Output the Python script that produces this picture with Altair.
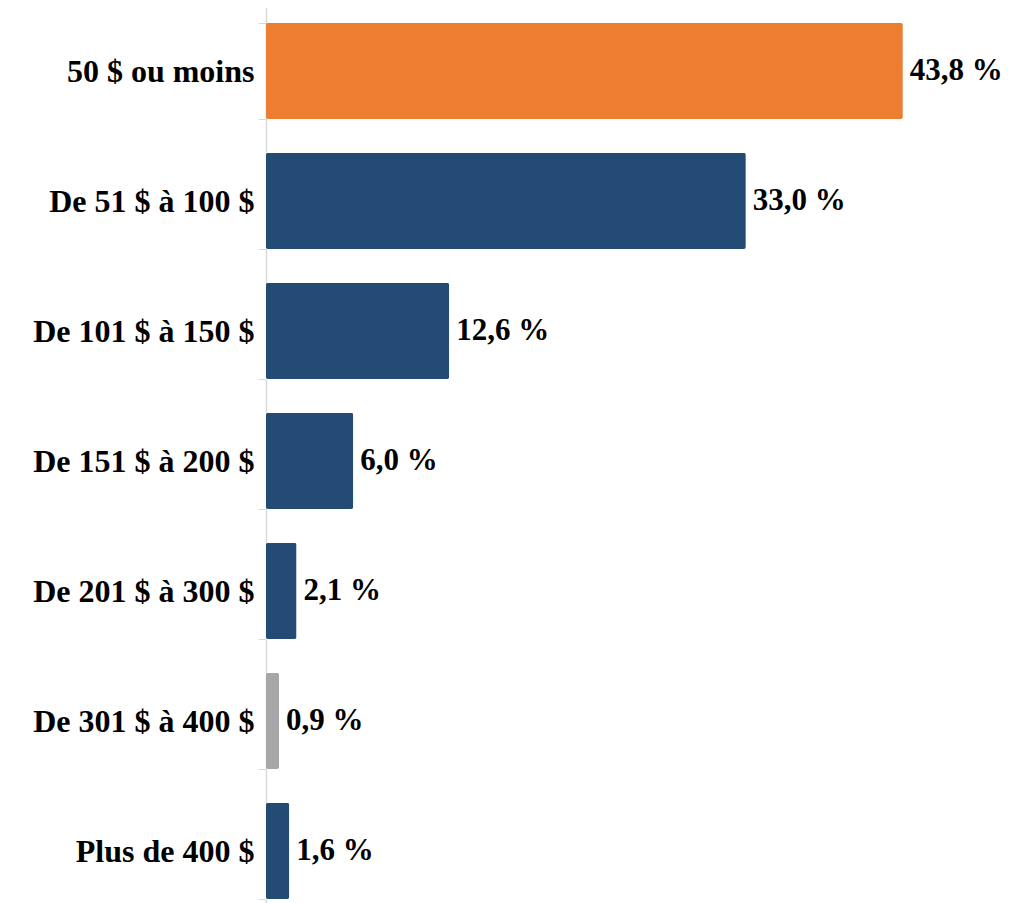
import altair as alt
import pandas as pd

categories = ["50 $ ou moins", "De 51 $ à 100 $", "De 101 $ à 150 $", "De 151 $ à 200 $",
              "De 201 $ à 300 $", "De 301 $ à 400 $", "Plus de 400 $"]
values = [43.8, 33.0, 12.6, 6.0, 2.1, 0.9, 1.6]
colors = ["#ED7D31", "#234B74", "#234B74", "#234B74", "#234B74", "#A6A6A6", "#234B74"]

df = pd.DataFrame({
    "cat": categories,
    "val": values,
    "color": colors,
    "label": [f"{v:.1f}".replace(".", ",") + " %" for v in values],
})

FONT = "Liberation Serif"

y_enc = alt.Y("cat:N", sort=categories, title=None,
              scale=alt.Scale(paddingInner=0.26, paddingOuter=0.13),
              axis=alt.Axis(domainColor="#D9D9D9", domainWidth=1.5, tickColor="#D9D9D9",
                            tickSize=8, tickBand="extent", labelPadding=4,
                            labelFont=FONT, labelFontSize=32, labelFontWeight="bold",
                            labelColor="#000000", labelLimit=400))
x_enc = alt.X("val:Q", scale=alt.Scale(domain=[0, 50]), axis=None)

bars = alt.Chart(df).mark_bar(cornerRadius=2).encode(
    y=y_enc, x=x_enc, color=alt.Color("color:N", scale=None)
)
text = alt.Chart(df).mark_text(align="left", baseline="middle", dx=7,
                               font=FONT, fontSize=31, fontWeight="bold", color="#000000").encode(
    y=alt.Y("cat:N", sort=categories), x="val:Q", text="label:N"
)

chart = (bars + text).properties(
    width=727, height=910,
    autosize=alt.AutoSizeParams(type="none"),
    padding={"left": 258, "top": -2, "right": 15, "bottom": 0},
).configure_view(stroke=None).configure_axis(grid=False)

chart.save("out.html", embed_options={"renderer": "svg", "actions": False})
